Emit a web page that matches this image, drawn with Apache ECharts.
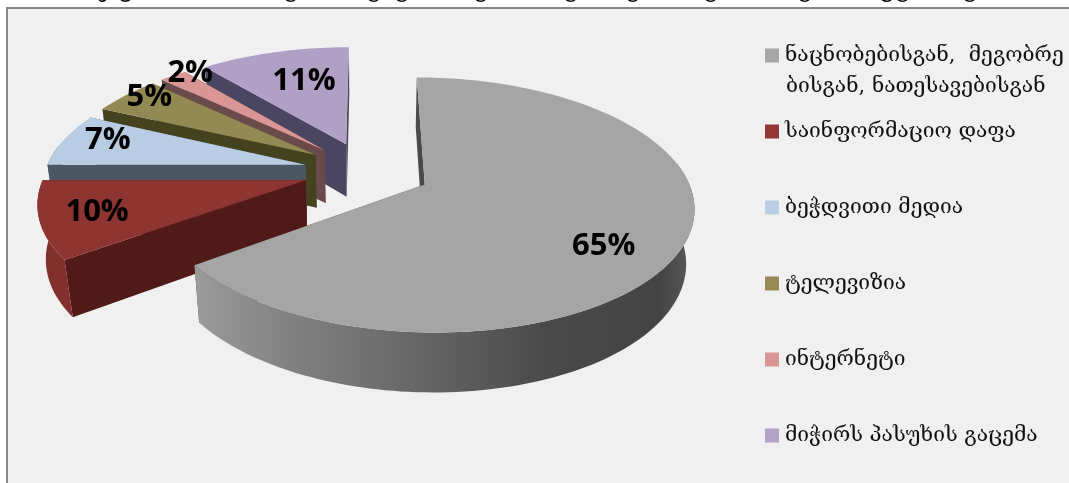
<!DOCTYPE html>
<html>
<head>
<meta charset="utf-8">
<style>html,body{margin:0;padding:0;background:#fff}#chart{width:1069px;height:483px}</style>
<script src="https://cdn.jsdelivr.net/npm/echarts@6/dist/echarts.min.js"></script>
</head>
<body>
<div id="chart"></div>
<script>
// Survey answers, in clockwise order starting from twelve o'clock
const categories = [
  'ნაცნობებისგან,  მეგობრებისგან, ნათესავებისგან',
  'საინფორმაციო დაფა',
  'ბეჭდვითი მედია',
  'ტელევიზია',
  'ინტერნეტი',
  'მიჭირს პასუხის გაცემა'
];
const shares = [65, 10, 7, 5, 2, 11];

const topColors  = ['#a5a5a5', '#8e3431', '#b8cce4', '#938a53', '#d99694', '#b0a0c5'];
const legendColors = ['#a6a6a6', '#953735', '#b9cde5', '#948a54', '#d99694', '#b3a2c7'];
const wallColors = ['#4a4a4a', '#501a18', '#4b5864', '#45421f', '#6a4a4a', '#4a4560'];
const rimColors  = ['#666666', '#82302d', '#4b5864', '#45421f', '#6a4a4a', '#4a4560'];

// Label placement: pixel nudge from the point at 70% radius on each slice's bisector
const labelNudgeX = [2, -25, -27, -30, -25, 10];
const labelNudgeY = [20, 4, -7, -15, -23, 4];

// Glyphs of the heading line cut off by the top of the page, with their x positions
const headingGlyphs = ['ჯც', 'გ', 'გ', 'გ', 'გ', 'გ', 'გ', 'გ', 'გ', 'ყგ', 'გ', '('];
const headingX = [98, 283, 366, 394, 473, 563, 625, 703, 797, 880, 962, 1022];

// Projection of the tilted pie plane onto the page
const view = { cx: 367, cy: 171, fx: 260, fy: 120, persp: 0.157, depth: 55, shrink: 0.025, explode: 0.245 };

function project(X, Y, z) {
  const w = 1 - view.persp * Y + view.shrink * z;
  return [view.cx + view.fx * X / w, view.cy + (view.fy * Y + view.depth * z) / w];
}

const total = shares.reduce((a, b) => a + b, 0);
const rad = d => d * Math.PI / 180;

function sliceGeometry(index) {
  const before = shares.slice(0, index).reduce((a, b) => a + b, 0);
  const a0 = before / total * 360;
  const a1 = (before + shares[index]) / total * 360;
  const mid = (a0 + a1) / 2;
  const ox = view.explode * Math.sin(rad(mid));
  const oy = -view.explode * Math.cos(rad(mid));
  const at = (deg, r, z) => project(ox + r * Math.sin(rad(deg)), oy - r * Math.cos(rad(deg)), z);
  const arc = (from, to, z) => {
    const pts = [];
    const n = Math.max(2, Math.ceil((to - from) / 1.5));
    for (let i = 0; i <= n; i++) pts.push(at(from + (to - from) * i / n, 1, z));
    return pts;
  };
  return { a0, a1, mid, at, arc };
}

function makeRenderItem(index) {
  return function (params, api) {
    const value = api.value(0);
    const g = sliceGeometry(index);
    const base = (shares.length - index) * 10;
    const children = [];
    // cut faces of the wedge
    [g.a0, g.a1].forEach(a => {
      children.push({
        type: 'polygon', z2: base,
        shape: { points: [g.at(a, 0, 0), g.at(a, 1, 0), g.at(a, 1, 1), g.at(a, 0, 1)] },
        style: { fill: wallColors[index] }
      });
    });
    // curved outer face, front-facing part only
    const from = Math.max(g.a0, 80), to = Math.min(g.a1, 280);
    if (to > from) {
      const fill = index === 0 ? {
        type: 'linear', x: 0, y: 0, x2: 1, y2: 0,
        colorStops: [
          { offset: 0, color: '#9b9b9b' }, { offset: 0.2, color: '#808080' },
          { offset: 0.45, color: '#666666' }, { offset: 0.7, color: '#4a4a4a' },
          { offset: 0.93, color: '#444444' }, { offset: 1, color: '#5a5a5a' }
        ]
      } : rimColors[index];
      children.push({
        type: 'polygon', z2: base + 1,
        shape: { points: g.arc(from, to, 0).concat(g.arc(from, to, 1).reverse()) },
        style: { fill }
      });
    }
    // top face
    children.push({
      type: 'polygon', z2: base + 2,
      shape: { points: [g.at(g.a0, 0, 0)].concat(g.arc(g.a0, g.a1, 0)) },
      style: { fill: topColors[index] }
    });
    const anchor = g.at(g.mid, 0.7, 0);
    children.push({
      type: 'text', z2: 200,
      style: {
        text: value + '%',
        x: anchor[0] + labelNudgeX[index], y: anchor[1] + labelNudgeY[index],
        align: 'center', verticalAlign: 'middle',
        font: 'bold 31px "Open Sans", sans-serif', fill: '#000'
      }
    });
    return { type: 'group', children };
  };
}

// Drawn back to front: the large front slice comes last
const series = categories.map((name, i) => ({
  type: 'custom', name, coordinateSystem: 'none',
  itemStyle: { color: legendColors[i] },
  renderItem: makeRenderItem(i),
  data: [[shares[i]]],
  silent: true
})).reverse();

const legendFont = '"DejaVu Serif", "DejaVu Sans", serif';
const firstLine = 'ნაცნობებისგან,  მეგობრე';
const secondLine = 'ბისგან, ნათესავებისგან';

const chart = echarts.init(document.getElementById('chart'), null, { renderer: 'canvas' });
chart.setOption({
  animation: false,
  backgroundColor: '#ffffff',
  legend: {
    orient: 'vertical', left: 765, top: 45, itemWidth: 14, itemHeight: 14, itemGap: 55,
    icon: 'rect', selectedMode: false, padding: 0,
    data: categories.map((name, i) => ({ name, itemStyle: { color: legendColors[i] } })),
    formatter: name => name === categories[0] ? firstLine : name,
    textStyle: { fontFamily: legendFont, fontSize: 21, color: '#111', padding: [0, 0, 0, 1], height: 21, lineHeight: 21 }
  },
  graphic: [
    {
      type: 'rect', z: -1, silent: true,
      shape: { x: 7, y: 8, width: 1100, height: 520 },
      style: { fill: '#f0f0f0', stroke: '#868686', lineWidth: 2 }
    },
    {
      type: 'text', z: 10, silent: true, left: 786, top: 76,
      style: { text: secondLine, font: '21px ' + legendFont, fill: '#111' }
    }
  ].concat(headingGlyphs.map((t, i) => ({
    type: 'text', z: -2, silent: true, x: headingX[i], y: -24,
    style: { text: t, font: '26px "DejaVu Serif", serif', fill: '#000' }
  }))),
  series
});
</script>
</body>
</html>
